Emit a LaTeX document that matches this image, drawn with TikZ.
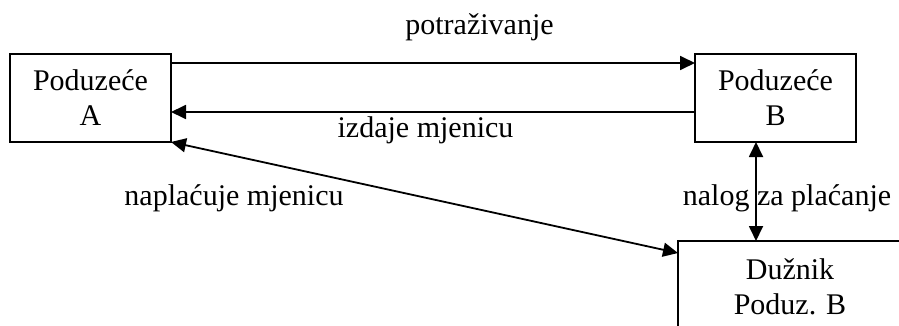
\documentclass[tikz,border=0pt]{standalone}
\usepackage{fontspec}
\setmainfont{Liberation Serif}
\usetikzlibrary{arrows.meta}
\begin{document}
\begin{tikzpicture}[x=1pt,y=-1pt,
  every node/.style={font=\fontsize{30}{35}\selectfont, outer sep=0pt},
  firm/.style={draw, line width=1.8pt, minimum width=161pt, minimum height=88pt, align=center, inner sep=0pt},
  lbl/.style={anchor=base, inner sep=0pt},
  tip/.style={Triangle[length=15pt,width=14pt]},
  arr/.style={line width=1.8pt, -{Triangle[length=15pt,width=14pt]}},
  darr/.style={line width=1.8pt, {Triangle[length=15pt,width=14pt]}-{Triangle[length=15pt,width=14pt]}}]
  \useasboundingbox (0,0) rectangle (899,326);
  \clip (0,0) rectangle (899,326);

  % the three parties
  \node[firm] (A) at (90.5,98) {Poduzeće\\A};
  \node[firm] (B) at (775.5,98) {Poduzeće\\B};
  \node[firm, anchor=north, minimum width=224pt, minimum height=10pt, inner ysep=17.5pt] (C) at (790,241) {Dužnik\\Poduz. B};

  % flows between them
  \draw[arr] ([yshift=-9pt]A.north east) -- ([yshift=-9pt]B.north west);
  \draw[arr] ([yshift=-58pt]B.north west) -- ([yshift=-58pt]A.north east);
  \draw[darr] (A.south east) -- ([yshift=-12pt]C.north west);
  \draw[darr] ([xshift=-19.5pt]B.south) -- ([xshift=-19.5pt]B.south |- C.north);

  % labels
  \node[lbl] (l1) at (479.5,35) {potraživanje};
  \node[lbl] (l2) at (425.5,137) {izdaje mjenicu};
  \node[lbl] (l3) at (234,205) {naplaćuje mjenicu};
  \node[lbl] (l4) at (787,205) {nalog za plaćanje};
\end{tikzpicture}
\end{document}
